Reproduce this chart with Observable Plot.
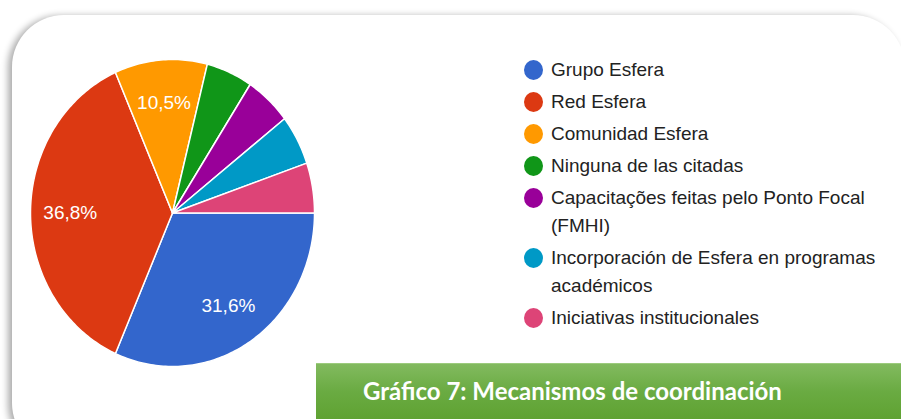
<!DOCTYPE html>
<html>
<head>
<meta charset="utf-8">
<script src="https://cdn.jsdelivr.net/npm/d3@7"></script>
<script src="https://cdn.jsdelivr.net/npm/@observablehq/plot@0.6"></script>
<style>
  html, body { margin: 0; padding: 0; background: #fff; width: 901px; height: 419px; overflow: hidden; }
  #card { position: absolute; left: 12px; top: 15px; width: 893px; height: 440px; background: #fff;
          border-radius: 52px; box-shadow: -4px 1px 7px rgba(0,0,0,0.33); }
  #chart { position: absolute; left: 0; top: 0; }
  #legend { position: absolute; left: 524px; top: 56px; width: 360px; font-family: "Liberation Sans", Arial, sans-serif;
            font-size: 19px; color: #222; }
  .item { display: flex; align-items: flex-start; line-height: 28px; margin-bottom: 4px; }
  .sw { flex: 0 0 auto; width: 19px; height: 20px; border-radius: 50%; margin-top: 4px; margin-right: 8px; }
  .lbl { width: 330px; }
  #banner { position: absolute; left: 316px; top: 363px; width: 585px; height: 56px;
            background: linear-gradient(#82ba5f 0%, #6aab42 50%, #5fa232 100%);
            border-top: 1px solid #9ccb7d; box-sizing: border-box;
            font-family: Lato, "Open Sans", sans-serif; font-weight: 700; font-size: 24px; color: #fff;
            padding-left: 47px; line-height: 54px; }
</style>
</head>
<body>
<div id="card"></div>
<div id="chart"></div>
<div id="legend"></div>
<div id="banner">Gráfico 7: Mecanismos de coordinación</div>
<script>
const categories = [
  "Grupo Esfera",
  "Red Esfera",
  "Comunidad Esfera",
  "Ninguna de las citadas",
  "Capacitações feitas pelo Ponto Focal (FMHI)",
  "Incorporación de Esfera en programas académicos",
  "Iniciativas institucionales"
];
const counts = [6, 7, 2, 1, 1, 1, 1];
const colors = ["#3366cc", "#dc3912", "#ff9900", "#109618", "#990099", "#0099c6", "#dd4477"];

const total = d3.sum(counts);
const labelThreshold = 0.08;
const labelRadius = 0.72;

// Build slice polygons from the values (start at 3 o'clock, clockwise)
const polys = [];
const labels = [];
let cum = 0;
categories.forEach((name, i) => {
  const c0 = cum, c1 = cum + counts[i];
  const a0 = -2 * Math.PI * c0 / total, a1 = -2 * Math.PI * c1 / total;
  const n = Math.max(2, Math.ceil(Math.abs(a1 - a0) * 180 / Math.PI));
  polys.push({name, x: 0, y: 0});
  for (let k = 0; k <= n; k++) {
    const a = a0 + (a1 - a0) * k / n;
    polys.push({name, x: Math.cos(a), y: Math.sin(a)});
  }
  polys.push({name, x: 0, y: 0});
  const share = counts[i] / total;
  if (share >= labelThreshold) {
    const am = (a0 + a1) / 2;
    labels.push({name, x: labelRadius * Math.cos(am), y: labelRadius * Math.sin(am),
                 text: (share * 100).toFixed(1).replace(".", ",") + "%"});
  }
  cum = c1;
});

const chart = Plot.plot({
  width: 460,
  height: 419,
  margin: 0,
  x: {domain: [-1, 1], range: [30, 314], axis: null},
  y: {domain: [-1, 1], range: [366, 59], axis: null},
  color: {domain: categories, range: colors},
  style: {background: "transparent", overflow: "visible"},
  marks: [
    Plot.line(polys, {x: "x", y: "y", z: "name", fill: "name", stroke: "#fff", strokeWidth: 1.5, strokeLinejoin: "round"}),
    Plot.text(labels, {x: "x", y: "y", text: "text", fill: "#fff", fontSize: 19,
                       fontFamily: "Liberation Sans, Arial, sans-serif"})
  ]
});
document.getElementById("chart").appendChild(chart);

// Legend (HTML) built from the same arrays
const legend = document.getElementById("legend");
categories.forEach((name, i) => {
  const item = document.createElement("div");
  item.className = "item";
  const sw = document.createElement("span");
  sw.className = "sw";
  sw.style.background = colors[i];
  const lbl = document.createElement("span");
  lbl.className = "lbl";
  lbl.textContent = name;
  item.appendChild(sw);
  item.appendChild(lbl);
  legend.appendChild(item);
});
</script>
</body>
</html>
